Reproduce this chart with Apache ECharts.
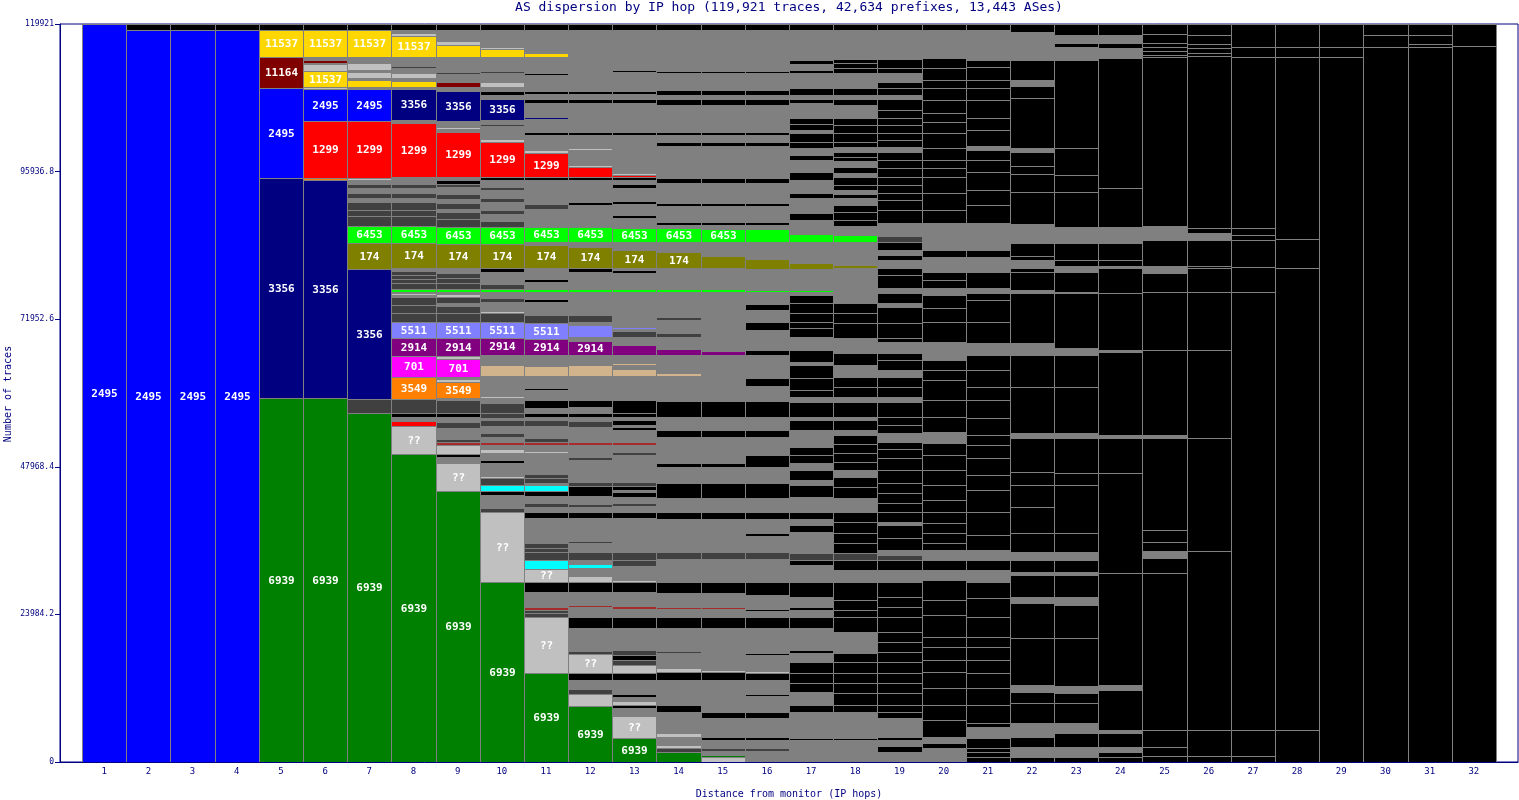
<!DOCTYPE html>
<html><head><meta charset="utf-8">
<script src="https://cdn.jsdelivr.net/npm/echarts@6/dist/echarts.min.js"></script>
<style>html,body{margin:0;padding:0;background:#fff}#c{width:1519px;height:800px}</style>
</head><body><div id="c"></div><script>
// Hops (x categories) and y tick labels
const hops = Array.from({length: 32}, (_, i) => i + 1);
const yTickLabels = ['0', '23984.2', '47968.4', '71952.6', '95936.8', '119921'];
const totalTraces = 119921;
const titleText = 'AS dispersion by IP hop (119,921 traces, 42,634 prefixes, 13,443 ASes)';

// Each hop: segments bottom-up, [traces, colour key, AS label]
const hop1 = [[119921,'B','2495']];
const hop2 = [[118950,'B','2495'],[971,'K']];
const hop3 = [[118950,'B','2495'],[971,'K']];
const hop4 = [[118950,'B','2495'],[971,'K']];
const hop5 = [[59150,'G','6939'],[35750,'N','3356'],[14625,'B','2495'],[5038,'M','11164'],[4388,'Y','11537'],[975,'K']];
const hop6 = [[59150,'G','6939'],[35425,'N','3356'],[325,'A'],[9263,'R','1299'],[5200,'B','2495'],[325,'S'],[2600,'Y','11537'],[1138,'S'],[163,'g'],[488,'M'],[488,'g'],[4388,'Y','11537'],[975,'K']];
const hop7 = [[56713,'G','6939'],[2275,'D'],[21125,'N','3356'],[4225,'O','174'],[2763,'L','6453'],[1625,'D'],[975,'D'],[1300,'D'],[650,'g'],[813,'D'],[813,'g'],[650,'D'],[650,'g'],[325,'S'],[9263,'R','1299'],[5200,'B','2495'],[325,'g'],[1138,'Y'],[325,'g'],[975,'S'],[325,'g'],[1138,'S'],[325,'g'],[163,'M'],[488,'g'],[4388,'Y','11537'],[975,'K']];
const hop8 = [[50050,'G','6939'],[4550,'S','??'],[813,'R'],[650,'g'],[650,'K'],[2275,'D'],[3575,'A','3549'],[3413,'F','701'],[2925,'U','2914'],[2600,'P','5511'],[1463,'D'],[1300,'D'],[1300,'D'],[325,'g'],[325,'S'],[163,'g'],[488,'L'],[975,'D'],[650,'D'],[650,'D'],[650,'D'],[488,'g'],[4063,'O','174'],[2763,'L','6453'],[1625,'D'],[975,'D'],[1300,'D'],[650,'g'],[813,'D'],[813,'g'],[650,'D'],[650,'g'],[488,'g'],[8775,'R','1299'],[488,'g'],[5038,'N','3356'],[325,'g'],[975,'Y'],[488,'g'],[813,'S'],[813,'g'],[325,'D'],[1463,'g'],[3413,'Y','11537'],[488,'S'],[488,'g'],[975,'K']];
const hop9 = [[44038,'G','6939'],[4550,'S','??'],[975,'g'],[488,'K'],[1463,'S'],[488,'W'],[488,'D'],[1788,'g'],[975,'D'],[813,'g'],[650,'K'],[2113,'D'],[325,'g'],[2600,'A','3549'],[488,'S'],[325,'g'],[2925,'F','701'],[488,'S'],[2925,'U','2914'],[2600,'P','5511'],[1463,'D'],[1138,'D'],[488,'g'],[975,'D'],[488,'S'],[325,'g'],[488,'L'],[975,'D'],[813,'D'],[813,'D'],[813,'g'],[3900,'O','174'],[2763,'L','6453'],[1300,'D'],[1138,'D'],[488,'g'],[975,'D'],[650,'g'],[813,'D'],[1138,'g'],[488,'D'],[650,'K'],[488,'g'],[7313,'R','1299'],[488,'g'],[325,'S'],[975,'g'],[4875,'N','3356'],[650,'g'],[813,'M'],[1300,'g'],[325,'D'],[2438,'g'],[1950,'Y'],[650,'S'],[1788,'g'],[975,'K']];
const hop10 = [[29250,'G','6939'],[11375,'S','??'],[650,'D'],[2113,'g'],[650,'K'],[975,'C'],[1138,'D'],[325,'S'],[2113,'g'],[488,'K'],[1138,'g'],[650,'S'],[650,'g'],[488,'W'],[813,'g'],[650,'D'],[1138,'g'],[975,'D'],[325,'g'],[813,'D'],[1625,'D'],[813,'g'],[325,'S'],[3250,'g'],[1788,'T'],[1625,'g'],[2763,'U','2914'],[2600,'P','5511'],[1463,'D'],[325,'S'],[1463,'g'],[650,'D'],[975,'g'],[488,'L'],[813,'D'],[1950,'g'],[650,'K'],[3900,'O','174'],[2763,'L','6453'],[975,'D'],[1138,'g'],[650,'D'],[1300,'g'],[650,'D'],[1300,'g'],[488,'D'],[1138,'g'],[488,'K'],[5688,'R','1299'],[488,'S'],[2113,'g'],[325,'D'],[650,'g'],[3413,'N','3356'],[650,'g'],[650,'K'],[650,'g'],[813,'S'],[1463,'g'],[325,'D'],[2275,'g'],[1300,'Y'],[325,'S'],[2763,'g'],[975,'K']];
const hop11 = [[14463,'G','6939'],[9100,'S','??'],[650,'D'],[488,'D'],[488,'W'],[2438,'g'],[1625,'K'],[2113,'S','??'],[1463,'C'],[1300,'D'],[650,'D'],[813,'D'],[4063,'g'],[975,'K'],[813,'g'],[650,'D'],[1138,'g'],[813,'K'],[975,'C'],[325,'g'],[813,'D'],[650,'D'],[3413,'g'],[325,'S'],[975,'g'],[488,'W'],[650,'D'],[1950,'g'],[975,'D'],[488,'g'],[650,'K'],[813,'g'],[1300,'K'],[1625,'g'],[325,'K'],[1950,'g'],[1625,'T'],[1788,'g'],[2600,'U','2914'],[2600,'P','5511'],[1300,'D'],[2113,'g'],[488,'K'],[1138,'g'],[488,'L'],[1138,'g'],[488,'K'],[1788,'g'],[3738,'O','174'],[488,'g'],[2438,'L','6453'],[2925,'g'],[813,'D'],[3900,'g'],[488,'K'],[3900,'R','1299'],[488,'S'],[2438,'g'],[488,'K'],[2113,'g'],[325,'N'],[2275,'g'],[650,'K'],[813,'g'],[488,'K'],[2600,'g'],[325,'K'],[2600,'g'],[650,'Y'],[3738,'g'],[975,'K']];
const hop12 = [[9100,'G','6939'],[1950,'S'],[813,'D'],[1463,'g'],[1138,'K'],[3088,'S','??'],[488,'D'],[3738,'g'],[1788,'K'],[1625,'g'],[325,'W'],[2113,'g'],[1625,'K'],[975,'S'],[1300,'g'],[650,'C'],[650,'g'],[1300,'D'],[1463,'g'],[325,'D'],[3738,'g'],[975,'K'],[813,'g'],[488,'D'],[1300,'g'],[1625,'K'],[650,'D'],[3575,'g'],[488,'D'],[1950,'g'],[488,'W'],[2438,'g'],[975,'D'],[650,'g'],[650,'K'],[975,'g'],[1138,'K'],[3900,'g'],[1788,'T'],[1625,'g'],[2275,'U','2914'],[650,'g'],[1950,'P'],[488,'g'],[1138,'D'],[3738,'g'],[488,'L'],[2763,'g'],[650,'K'],[3413,'O','174'],[813,'g'],[2438,'L','6453'],[3575,'g'],[488,'K'],[3575,'g'],[488,'K'],[1625,'R'],[325,'S'],[2438,'g'],[325,'S'],[2113,'g'],[488,'K'],[4713,'g'],[650,'K'],[813,'g'],[488,'K'],[5525,'g'],[163,'Y'],[4225,'g'],[975,'K']];
const hop13 = [[3900,'G','6939'],[3575,'S','??'],[1300,'g'],[488,'K'],[650,'S'],[650,'g'],[488,'K'],[2275,'g'],[1138,'K'],[1300,'S'],[813,'D'],[813,'K'],[813,'D'],[3575,'g'],[1788,'K'],[1300,'g'],[488,'W'],[2275,'g'],[1625,'K'],[325,'S'],[2275,'g'],[975,'D'],[1300,'D'],[5525,'g'],[975,'K'],[975,'g'],[488,'D'],[975,'g'],[813,'K'],[325,'g'],[650,'K'],[650,'D'],[4388,'g'],[488,'D'],[1138,'g'],[488,'W'],[1950,'g'],[488,'K'],[325,'g'],[813,'K'],[488,'g'],[650,'K'],[2113,'K'],[3900,'g'],[1138,'T'],[650,'g'],[325,'T'],[1300,'g'],[1625,'U'],[1300,'g'],[975,'D'],[325,'g'],[325,'P'],[5688,'g'],[488,'L'],[2600,'g'],[488,'K'],[325,'g'],[2925,'O','174'],[1300,'g'],[2275,'L','6453'],[1625,'g'],[488,'K'],[1788,'g'],[488,'K'],[2113,'g'],[650,'K'],[650,'g'],[488,'K'],[325,'R'],[325,'S'],[6175,'g'],[488,'K'],[4713,'g'],[650,'K'],[813,'g'],[488,'K'],[3088,'g'],[325,'K'],[6500,'g'],[975,'K']];
const hop14 = [[1625,'G'],[650,'D'],[488,'S'],[1300,'g'],[650,'S'],[3413,'g'],[1138,'K'],[4063,'g'],[1300,'K'],[650,'S'],[2438,'g'],[325,'D'],[3738,'g'],[1788,'K'],[1300,'g'],[325,'W'],[2275,'g'],[1788,'K'],[3738,'g'],[1138,'D'],[5363,'g'],[1138,'K'],[2275,'g'],[2438,'K'],[2600,'g'],[650,'K'],[4225,'g'],[1138,'K'],[2113,'g'],[2600,'K'],[4063,'g'],[488,'T'],[2925,'g'],[975,'U'],[1950,'g'],[650,'D'],[2113,'g'],[488,'D'],[4063,'g'],[488,'L'],[3413,'g'],[2600,'O','174'],[1625,'g'],[2275,'L','6453'],
  [488,'g'],[488,'K'],[2600,'g'],[488,'K'],[3250,'g'],[813,'K'],[5200,'g'],[650,'K'],[1138,'g'],[488,'K'],[4388,'g'],[975,'K'],[650,'g'],[813,'K'],[2763,'g'],[325,'K'],[6663,'g'],[975,'K']];
const hop15 = [[813,'S'],[325,'G'],[650,'g'],[488,'D'],[1300,'g'],[488,'K'],[3088,'g'],[975,'K'],[5200,'g'],[1300,'K'],[325,'S'],[6825,'g'],[1788,'K'],[1300,'g'],[325,'W'],[2275,'g'],[1788,'K'],[3738,'g'],[1138,'D'],[5363,'g'],[1138,'K'],[2275,'g'],[2438,'K'],[2600,'g'],[650,'K'],[4225,'g'],[1138,'K'],[2113,'g'],[2600,'K'],[7475,'g'],[650,'U'],[9588,'g'],[488,'L'],[3413,'g'],[1950,'O'],[2275,'g'],[2113,'L','6453'],
  [650,'g'],[488,'K'],[2600,'g'],[488,'K'],[3250,'g'],[813,'K'],[5200,'g'],[650,'K'],[1138,'g'],[488,'K'],[4388,'g'],[975,'K'],[650,'g'],[813,'K'],[2763,'g'],[325,'K'],[6663,'g'],[975,'K']];
const hop16 = [[1788,'g'],[488,'D'],[1300,'g'],[488,'K'],[3088,'g'],[975,'K'],[2600,'g'],[325,'K'],[2275,'g'],[1138,'K'],[325,'S'],[2600,'g'],[325,'K'],[4063,'g'],[1788,'K'],[975,'g'],[325,'K'],[2275,'g'],[2113,'K'],[3738,'g'],[1138,'D'],[2600,'g'],[488,'K'],[2275,'g'],[1138,'K'],[2275,'g'],[2438,'K'],[2600,'g'],[1950,'K'],[2925,'g'],[1138,'K'],[2113,'g'],[2600,'K'],[2438,'g'],[1300,'K'],[3738,'g'],[813,'K'],[3250,'g'],[1300,'K'],[1950,'g'],[975,'K'],[1950,'g'],[325,'L'],[3413,'g'],[1625,'O'],[2763,'g'],[2113,'L'],
  [650,'g'],[488,'K'],[2600,'g'],[488,'K'],[3250,'g'],[813,'K'],[5200,'g'],[650,'K'],[1138,'g'],[488,'K'],[4388,'g'],[975,'K'],[650,'g'],[813,'K'],[2763,'g'],[325,'K'],[6663,'g'],[975,'K']];
const hop17 = [[3575,'g'],[325,'K'],[4225,'g'],[1138,'K'],[2113,'g'],[1463,'K'],[1625,'K'],[1788,'K'],[1463,'g'],[488,'K'],[3575,'g'],[1788,'K'],[1138,'g'],[488,'K'],[1625,'g'],[2438,'K'],[2763,'g'],[813,'K'],[1138,'D'],[3413,'g'],[1138,'K'],[975,'g'],[1138,'K'],[2438,'g'],[1950,'K'],[813,'g'],[1625,'K'],[1138,'g'],[1300,'K'],[1300,'K'],[2763,'g'],[1625,'K'],[488,'g'],[2438,'K'],[813,'g'],[1138,'K'],[1950,'K'],[2113,'K'],[488,'g'],[1950,'K'],[2113,'g'],[1463,'K'],[975,'K'],[1463,'K'],[1625,'K'],[1300,'K'],[488,'g'],[325,'L'],[3413,'g'],[975,'O'],[3413,'g'],[1300,'L'],
  [2275,'g'],[1138,'K'],[2438,'g'],[813,'K'],[2113,'g'],[1300,'K'],[1950,'g'],[813,'K'],[1138,'g'],[975,'K'],[1463,'K'],[488,'g'],[975,'K'],[975,'K'],[2438,'g'],[650,'K'],[650,'g'],[1138,'K'],[2438,'g'],[488,'K'],[975,'g'],[650,'K'],[4875,'g'],[975,'K']];
const hop18 = [[3575,'g'],[325,'K'],[4225,'g'],[1138,'K'],[1950,'K'],[1625,'K'],[1625,'K'],[1788,'K'],[1463,'K'],[3413,'g'],[2438,'K'],[1138,'K'],[1625,'K'],[2925,'K'],[1950,'g'],[1625,'K'],[1138,'D'],[1625,'K'],[1625,'K'],[1788,'K'],[1625,'K'],[2275,'g'],[1788,'K'],[1625,'K'],[1138,'g'],[1300,'K'],[1463,'K'],[1463,'K'],[1463,'K'],[813,'g'],[1625,'K'],[488,'g'],[2438,'K'],[813,'g'],[1625,'K'],[1625,'K'],[1950,'g'],[1950,'K'],[2438,'g'],[2438,'K'],[1625,'K'],[1625,'K'],[5688,'g'],[488,'O'],[3738,'g'],[1138,'L'],
  [1463,'g'],[975,'K'],[1300,'K'],[1138,'K'],[1138,'g'],[650,'K'],[650,'g'],[813,'K'],[1300,'K'],[650,'g'],[975,'K'],[975,'g'],[650,'K'],[813,'K'],[813,'g'],[813,'K'],[1463,'K'],[1300,'K'],[1138,'K'],[2113,'g'],[975,'K'],[650,'g'],[1138,'K'],[2438,'g'],[813,'K'],[813,'K'],[650,'K'],[4713,'g'],[975,'K']];
const hop19 = [[1625,'g'],[975,'K'],[975,'g'],[488,'K'],[3088,'g'],[975,'K'],[1138,'K'],[1950,'K'],[1625,'K'],[1625,'K'],[1788,'K'],[1625,'K'],[1625,'K'],[1625,'K'],[2438,'K'],[1625,'K'],[1625,'K'],[2438,'K'],[1950,'g'],[1625,'K'],[813,'D'],[813,'g'],[1950,'K'],[2113,'K'],[488,'g'],[1625,'K'],[1463,'K'],[1625,'K'],[1625,'K'],[2113,'K'],[1950,'K'],[1463,'K'],[1138,'K'],[1463,'g'],[1300,'K'],[1300,'K'],[2438,'K'],[813,'g'],[1625,'K'],[1625,'K'],[1138,'g'],[1625,'K'],[1138,'K'],[1788,'g'],[650,'K'],[2438,'K'],[2600,'K'],[650,'g'],[1625,'K'],[813,'g'],[2113,'K'],[1138,'K'],[163,'O'],[1138,'g'],[813,'K'],[813,'g'],[1300,'K'],[975,'D'],
  [2113,'g'],[2113,'K'],[1625,'K'],[1138,'K'],[1300,'K'],[1300,'K'],[1463,'K'],[1300,'K'],[1300,'K'],[813,'g'],[1138,'K'],[1138,'K'],[1300,'K'],[1138,'K'],[1300,'K'],[1788,'K'],[650,'g'],[1138,'K'],[975,'K'],[1463,'g'],[813,'K'],[1463,'K'],[4713,'g'],[975,'K']];
const hop20 = [[2275,'g'],[813,'K'],[975,'g'],[2763,'K'],[2438,'K'],[2763,'K'],[2600,'K'],[1950,'K'],[2113,'K'],[1625,'K'],[3575,'K'],[2438,'K'],[3250,'K'],[1625,'g'],[1625,'K'],[1625,'g'],[1138,'K'],[1625,'K'],[1625,'K'],[1788,'K'],[1950,'K'],[2438,'K'],[2438,'K'],[2438,'K'],[1950,'K'],[1788,'g'],[2438,'K'],[2763,'K'],[3250,'K'],[1625,'K'],[1625,'K'],[2925,'g'],[3250,'K'],[2275,'K'],[2113,'K'],[1138,'g'],[1300,'K'],[1300,'K'],[2438,'g'],[1138,'K'],[2275,'g'],
  [2113,'g'],[2113,'K'],[2763,'K'],[2600,'K'],[1463,'K'],[1300,'K'],[1950,'K'],[2438,'K'],[1788,'K'],[1463,'K'],[2113,'K'],[1950,'K'],[1300,'K'],[1950,'K'],[1625,'K'],[4550,'g'],[975,'K']];
const hop21 = [[813,'K'],[813,'K'],[650,'K'],[1625,'K'],[1788,'g'],[650,'K'],[2925,'K'],[2763,'K'],[2438,'K'],[2113,'K'],[2113,'K'],[1625,'K'],[3250,'K'],[3088,'K'],[2600,'K'],[1950,'g'],[1625,'K'],[1625,'g'],[2438,'K'],[3738,'K'],[3575,'K'],[2438,'K'],[2763,'K'],[2113,'K'],[1625,'K'],[2763,'K'],[2925,'K'],[2113,'K'],[2763,'K'],[2438,'K'],[1950,'g'],[3413,'K'],[3575,'K'],[1138,'K'],[813,'g'],[2600,'K'],[2438,'g'],[1138,'K'],[2275,'g'],
  [2113,'g'],[2925,'K'],[2438,'K'],[2925,'K'],[1950,'K'],[1625,'K'],[650,'g'],[2600,'K'],[1950,'K'],[2925,'K'],[1950,'K'],[1300,'K'],[2113,'K'],[1138,'K'],[4875,'g'],[975,'K']];
const hop22 = [[813,'K'],[1625,'g'],[1625,'K'],[2275,'g'],[3250,'K'],[1788,'K'],[1138,'g'],[7638,'K'],[5688,'K'],[975,'g'],[3575,'K'],[488,'g'],[1950,'K'],[1300,'g'],[3088,'K'],[4225,'K'],[3575,'K'],[2113,'K'],[5525,'K'],[813,'g'],[7475,'K'],[5200,'K'],[1950,'g'],[8125,'K'],[488,'g'],[2925,'K'],[650,'K'],[1300,'g'],[650,'K'],[2113,'K'],[3088,'g'],[5200,'K'],[2925,'K'],[1300,'K'],[2275,'K'],[650,'g'],[8125,'K'],[1950,'K'],[975,'g'],[3250,'K'],[4550,'g'],[1300,'K']];
const hop23 = [[813,'K'],[1625,'g'],[2275,'K'],[1625,'g'],[3250,'K'],[1625,'K'],[1138,'g'],[7800,'K'],[5363,'K'],[1300,'g'],[3575,'K'],[488,'g'],[1950,'K'],[1300,'g'],[3088,'K'],[7800,'K'],[1950,'K'],[5688,'K'],[813,'g'],[7475,'K'],[5200,'K'],[1138,'g'],[8938,'K'],[163,'g'],[3250,'K'],[975,'g'],[975,'K'],[2763,'K'],[2600,'g'],[5688,'K'],[2763,'K'],[4388,'K'],[14300,'K'],[2113,'g'],[650,'K'],[1300,'g'],[1788,'K']];
const hop24 = [[813,'K'],[813,'K'],[813,'g'],[2275,'K'],[488,'g'],[6500,'K'],[813,'g'],[18200,'K'],[16250,'K'],[5688,'K'],[488,'g'],[13488,'K'],[325,'g'],[9263,'K'],[4063,'K'],[325,'g'],[975,'K'],[2763,'K'],[2600,'g'],[6338,'K'],[21125,'K'],[1625,'g'],[813,'K'],[1300,'g'],[1788,'K']];
const hop25 = [[975,'K'],[1463,'K'],[2763,'K'],[25513,'K'],[2438,'K'],[1138,'g'],[1463,'K'],[1950,'K'],[14950,'K'],[488,'g'],[13813,'K'],[9425,'K'],[3088,'K'],[1138,'g'],[4225,'K'],[2275,'g'],[27463,'K'],[325,'K'],[650,'K'],[650,'K'],[650,'K'],[1463,'K'],[1625,'K']];
const hop26 = [[975,'K'],[4225,'K'],[29088,'K'],[18363,'K'],[14300,'K'],[9425,'K'],[3900,'K'],[325,'K'],[4225,'K'],[1138,'g'],[813,'K'],[27950,'K'],[488,'K'],[813,'K'],[650,'K'],[1463,'K'],[1788,'K']];
const hop27 = [[975,'K'],[4225,'K'],[71175,'K'],[4063,'K'],[4388,'K'],[813,'K'],[1138,'K'],[27788,'K'],[1625,'K'],[3738,'K']];
const hop28 = [[5200,'K'],[75075,'K'],[4713,'K'],[29575,'K'],[1625,'K'],[3738,'K']];
const hop29 = [[114563,'K'],[1625,'K'],[3738,'K']];
const hop30 = [[116188,'K'],[1950,'K'],[1788,'K']];
const hop31 = [[116188,'K'],[488,'K'],[1463,'K'],[1788,'K']];
const hop32 = [[116350,'K'],[3575,'K']];

const columns = [hop1,hop2,hop3,hop4,hop5,hop6,hop7,hop8,hop9,hop10,hop11,hop12,hop13,hop14,hop15,hop16,
  hop17,hop18,hop19,hop20,hop21,hop22,hop23,hop24,hop25,hop26,hop27,hop28,hop29,hop30,hop31,hop32];

const palette = {B:'#0000ff', N:'#000080', G:'#008000', R:'#ff0000', Y:'#ffd700', M:'#800000', L:'#00ff00',
  O:'#808000', P:'#8080ff', U:'#800080', F:'#ff00ff', A:'#ff8000', S:'#c0c0c0', C:'#00ffff', T:'#d2b48c',
  W:'#a52a2a', D:'#404040', g:'#808080', K:'#000000'};

const segs = [];
columns.forEach((col, i) => {
  let base = 0;
  col.forEach(s => {
    segs.push([hops[i], base, base + s[0], s[1], s[2] || '']);
    base += s[0];
  });
});

const chart = echarts.init(document.getElementById('c'), null, {renderer: 'canvas'});
const navy = '#000080';
const mono = '"DejaVu Sans Mono", monospace';
chart.setOption({
  animation: false,
  backgroundColor: '#ffffff',
  grid: {left: 60, right: 1, top: 24, bottom: 38, show: true, borderColor: navy, borderWidth: 1,
    containLabel: false, outerBoundsMode: 'none'},
  xAxis: {type: 'value', min: 0, max: 33, interval: 1, z: 10,
    axisLine: {show: true, lineStyle: {color: navy, width: 1}},
    axisTick: {show: false}, splitLine: {show: false},
    axisLabel: {color: navy, fontFamily: mono, fontSize: 9, margin: 5,
      formatter: v => (v >= 1 && v <= 32) ? String(v) : ''}},
  yAxis: {type: 'value', min: 0, max: totalTraces, interval: 23984.2, z: 10,
    axisLine: {show: true, lineStyle: {color: navy, width: 1}},
    axisTick: {show: true, length: 5, lineStyle: {color: navy}},
    splitLine: {show: false},
    axisLabel: {color: navy, fontFamily: mono, fontSize: 8, margin: 6, showMinLabel: true, showMaxLabel: true,
      formatter: v => yTickLabels[Math.round(v / 23984.2)] || ''}},
  graphic: [
    {type: 'text', x: 789, y: 8, style: {text: titleText, align: 'center', verticalAlign: 'middle',
      font: '13px ' + mono, fill: navy}},
    {type: 'text', x: 789, y: 794, style: {text: 'Distance from monitor (IP hops)', align: 'center',
      verticalAlign: 'middle', font: '10px ' + mono, fill: navy}},
    {type: 'text', x: 8, y: 394, rotation: Math.PI / 2, style: {text: 'Number of traces', align: 'center',
      verticalAlign: 'middle', font: '10px ' + mono, fill: navy}}
  ],
  series: [{
    type: 'custom', clip: true,
    encode: {x: 0, y: [1, 2]},
    data: segs.map(s => [s[0], s[1], s[2]]),
    renderItem: (params, api) => {
      const s = segs[params.dataIndex];
      const a = api.coord([s[0] - 0.5, s[2]]);
      const b = api.coord([s[0] + 0.5, s[1]]);
      const x0 = Math.round(a[0]), x1 = Math.round(b[0]);
      const y0 = Math.round(a[1]), y1 = Math.round(b[1]);
      const children = [{type: 'rect', shape: {x: x0 + 0.5, y: y0 + 0.5, width: x1 - x0, height: Math.max(y1 - y0, 0)},
        style: {fill: palette[s[3]], stroke: '#808080', lineWidth: 1}}];
      if (s[4]) {
        children.push({type: 'text', z2: 10, style: {text: s[4], x: (x0 + x1) / 2 + 0.5, y: (y0 + y1) / 2 + 1,
          align: 'center', verticalAlign: 'middle', fill: '#ffffff', font: 'bold 11px ' + mono}});
      }
      return {type: 'group', children};
    }
  }]
});
</script></body></html>
